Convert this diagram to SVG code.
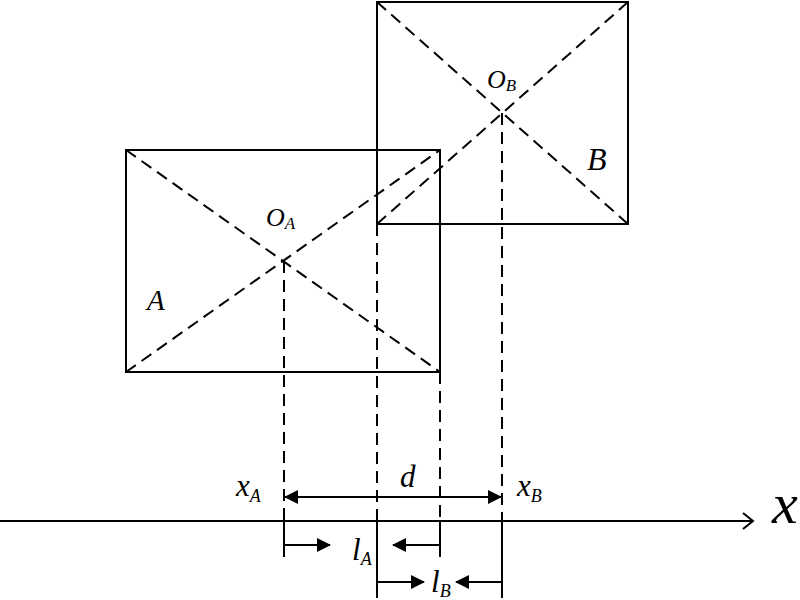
<svg xmlns="http://www.w3.org/2000/svg" width="800" height="600" viewBox="0 0 800 600">
<style>
.solid{fill:none;stroke:#000;stroke-width:2}
.dash{fill:none;stroke:#000;stroke-width:2;stroke-dasharray:12 7}
.lbl{font-family:"Liberation Serif",serif;font-style:italic;fill:#000}
</style>
<defs>
<marker id="ah" viewBox="0 0 14 14" refX="13" refY="7" markerWidth="14" markerHeight="14" markerUnits="userSpaceOnUse" orient="auto-start-reverse">
<path d="M0,0 L14,7 L0,14 Z" fill="#000"/>
</marker>
</defs>
<rect width="800" height="600" fill="#fff"/>
<g id="rectA">
<rect class="solid" x="126" y="150" width="314" height="222"/>
<line class="dash" x1="126" y1="150" x2="440" y2="372"/>
<line class="dash" x1="126" y1="372" x2="440" y2="150"/>
<text class="lbl" x="147" y="310" font-size="29">A</text>
<text class="lbl" x="266" y="226" font-size="26">O<tspan font-size="17" dy="3">A</tspan></text>
</g>
<g id="rectB">
<rect class="solid" x="377" y="2" width="251" height="222"/>
<line class="dash" x1="377" y1="2" x2="628" y2="224"/>
<line class="dash" x1="377" y1="224" x2="628" y2="2"/>
<text class="lbl" x="587" y="170" font-size="32">B</text>
<text class="lbl" x="487" y="88" font-size="26">O<tspan font-size="17" dy="3">B</tspan></text>
</g>
<g id="connectors">
<line class="dash" x1="284" y1="261" x2="284" y2="521"/>
<line class="dash" x1="377" y1="224" x2="377" y2="521"/>
<line class="dash" x1="440" y1="372" x2="440" y2="521"/>
<line class="dash" x1="502" y1="113" x2="502" y2="521"/>
<line class="solid" x1="284" y1="521" x2="284" y2="557"/>
<line class="solid" x1="377" y1="521" x2="377" y2="598"/>
<line class="solid" x1="440" y1="521" x2="440" y2="557"/>
<line class="solid" x1="502" y1="521" x2="502" y2="598"/>
<line class="solid" x1="0" y1="521" x2="753" y2="521"/>
<path class="solid" d="M743,513 L753,521 L743,529"/>
<line class="solid" x1="285" y1="497" x2="501" y2="497" marker-start="url(#ah)" marker-end="url(#ah)"/>
<line class="solid" x1="284" y1="545" x2="330" y2="545" marker-end="url(#ah)"/>
<line class="solid" x1="440" y1="545" x2="393" y2="545" marker-end="url(#ah)"/>
<line class="solid" x1="377" y1="582" x2="424" y2="582" marker-end="url(#ah)"/>
<line class="solid" x1="502" y1="582" x2="456" y2="582" marker-end="url(#ah)"/>
</g>
<g id="labels">
<text class="lbl" x="236" y="496" font-size="31">x<tspan font-size="18" dy="6">A</tspan></text>
<text class="lbl" x="517" y="496" font-size="31">x<tspan font-size="18" dy="6">B</tspan></text>
<text class="lbl" x="400" y="487" font-size="31">d</text>
<text class="lbl" x="352" y="560" font-size="31">l<tspan font-size="18" dy="5">A</tspan></text>
<text class="lbl" x="431" y="592" font-size="31">l<tspan font-size="18" dy="5">B</tspan></text>
<text class="lbl" x="772" y="523" font-size="58">x</text>
</g>
</svg>
